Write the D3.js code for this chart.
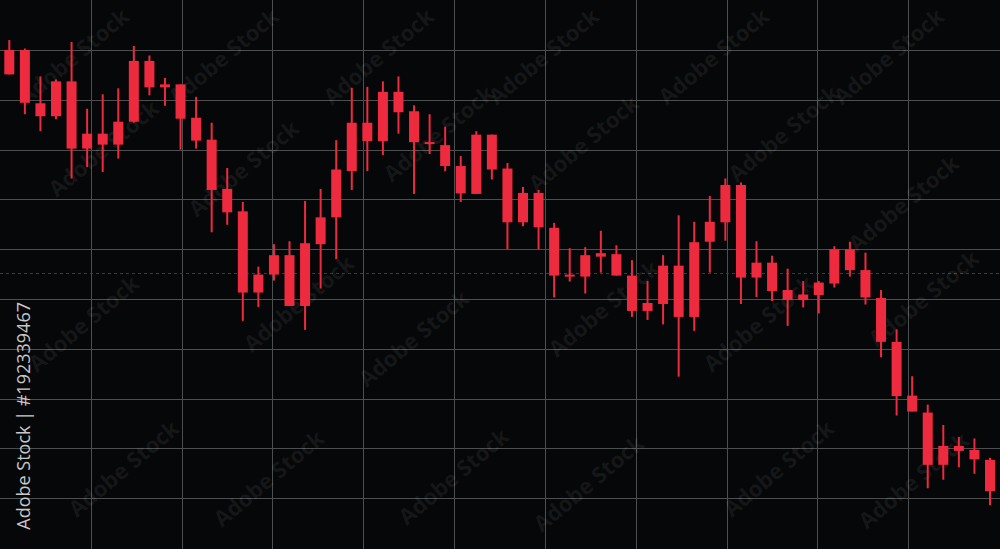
<!DOCTYPE html>
<html>
<head>
<meta charset="utf-8">
<script src="https://cdn.jsdelivr.net/npm/d3@7"></script>
<style>
  html, body { margin: 0; padding: 0; background: #060708; }
  svg { display: block; }
</style>
</head>
<body>
<div id="chart"></div>
<script>
// ---- Data (OHLC per session; every candle in the picture is bearish/red) ----
const sessions = d3.range(64);
const opens = [100.0, 100.0, 89.3, 93.7, 93.7, 83.2, 83.2, 85.6, 97.8, 97.8,
  93.1, 93.1, 86.4, 82.0, 72.1, 67.6, 54.9, 58.8, 58.8, 61.2,
  66.4, 76.0, 85.4, 85.4, 91.6, 91.6, 87.7, 81.5, 80.9, 76.7,
  83.0, 83.0, 76.2, 71.3, 71.3, 64.3, 54.9, 58.8, 59.2, 59.0,
  54.7, 49.2, 56.7, 56.7, 61.4, 65.5, 72.9, 72.9, 57.3, 57.3,
  51.8, 50.9, 53.3, 60.0, 60.0, 55.8, 50.2, 41.4, 30.6, 27.2,
  20.5, 20.5, 19.7, 17.7];
const highs = [102.0, 100.3, 94.7, 94.1, 101.6, 88.2, 91.1, 92.3, 100.8, 98.9,
  94.4, 93.1, 90.6, 85.4, 76.3, 69.5, 56.5, 61.0, 61.6, 69.7,
  72.1, 81.9, 92.4, 92.6, 93.7, 94.7, 88.9, 87.1, 84.6, 78.7,
  83.7, 83.0, 77.3, 72.5, 71.9, 65.3, 60.2, 60.4, 63.7, 60.8,
  57.8, 53.6, 58.8, 66.8, 65.5, 70.7, 74.2, 73.4, 61.6, 58.7,
  56.1, 53.6, 53.6, 60.6, 61.5, 59.3, 51.8, 43.9, 34.5, 28.8,
  24.7, 22.3, 22.0, 18.1];
const lows = [95.1, 87.1, 83.7, 86.1, 74.2, 76.5, 75.5, 78.2, 85.4, 90.9,
  88.8, 80.0, 80.2, 63.4, 64.9, 45.6, 48.4, 53.7, 48.6, 43.8,
  52.1, 58.0, 71.9, 75.7, 78.9, 83.2, 71.1, 79.1, 75.7, 69.5,
  71.1, 74.0, 60.0, 64.6, 60.0, 50.3, 53.5, 51.1, 55.3, 54.7,
  46.4, 45.8, 44.9, 34.4, 43.6, 55.3, 61.7, 49.0, 50.4, 49.6,
  44.6, 48.3, 47.1, 52.3, 54.5, 48.9, 38.3, 26.6, 27.4, 12.0,
  13.7, 16.2, 14.9, 8.6];
const closes = [95.1, 89.4, 86.7, 86.7, 80.2, 80.2, 81.0, 81.0, 85.6, 92.5,
  92.5, 86.2, 81.8, 71.9, 67.4, 51.3, 51.3, 54.9, 48.6, 48.6,
  61.0, 66.4, 75.7, 81.7, 81.7, 87.5, 81.5, 81.1, 76.7, 71.2,
  71.1, 76.0, 65.4, 65.4, 64.4, 54.7, 54.5, 54.5, 58.5, 54.7,
  47.6, 47.6, 49.0, 46.4, 46.4, 61.5, 65.4, 54.3, 54.3, 51.6,
  49.8, 49.8, 50.8, 53.1, 55.8, 50.3, 41.4, 30.5, 27.4, 16.7,
  16.7, 19.5, 17.8, 11.4];
const lastPrice = 55.3;          // faint dashed reference line
const priceTicks = d3.range(0, 111, 10);   // horizontal grid levels
const watermarkText = "Adobe Stock";
const sideLabel = "Adobe Stock | #192339467";

// ---- Layout ----
const W = 1000, H = 549;
const svg = d3.select("#chart").append("svg")
  .attr("width", W).attr("height", H);

svg.append("rect").attr("width", W).attr("height", H).attr("fill", "#060708");

const y = d3.scaleLinear().domain([0, 110]).range([548, 0.2]);
const x = d3.scaleLinear().domain([0, 63]).range([9.3, 990]);
const gx = d3.scaleLinear().domain([0, 11]).range([0, 999]);

// grid
const grid = svg.append("g").attr("stroke", "#4d4e50").attr("stroke-width", 1);
grid.selectAll("line.h").data(priceTicks.filter(d => d > 0 && d < 110)).join("line")
  .attr("class", "h")
  .attr("x1", 0).attr("x2", W)
  .attr("y1", d => Math.round(y(d)) + 0.5).attr("y2", d => Math.round(y(d)) + 0.5);
grid.selectAll("line.v").data(d3.range(1, 11)).join("line")
  .attr("class", "v")
  .attr("y1", 0).attr("y2", H)
  .attr("x1", d => Math.round(gx(d)) + 0.5).attr("x2", d => Math.round(gx(d)) + 0.5);

// dashed last-price line
svg.append("line")
  .attr("x1", 0).attr("x2", W)
  .attr("y1", Math.round(y(lastPrice)) + 0.5).attr("y2", Math.round(y(lastPrice)) + 0.5)
  .attr("stroke", "#3a3b3d").attr("stroke-width", 1).attr("stroke-dasharray", "3,3");

// watermarks (faint diagonal text), kept fully inside the frame
const wmPos = [[75,58],[225,58],[380,58],[545,58],[715,58],[890,58],
  [105,150],[245,170],[440,135],[585,145],[785,135],[905,205],
  [85,325],[300,305],[415,340],[605,310],[760,325],[925,300],
  [125,470],[270,480],[455,478],[590,485],[780,470],[915,482]];
const wm = svg.append("g").attr("pointer-events", "none");
wm.selectAll("text").data(wmPos).join("text")
  .attr("transform", d => `translate(${d[0]},${d[1]}) rotate(-40)`)
  .attr("text-anchor", "middle")
  .attr("dominant-baseline", "middle")
  .attr("font-family", "'Open Sans', sans-serif")
  .attr("font-weight", 700)
  .attr("font-size", 22)
  .attr("fill", "#ffffff")
  .attr("fill-opacity", 0.075)
  .text(watermarkText);

// candles
const data = sessions.map(i => ({ i, o: opens[i], h: highs[i], l: lows[i], c: closes[i] }));
const red = "#ee2a3e";
const bodyW = 10;
const cg = svg.append("g");
cg.selectAll("line.wick").data(data).join("line")
  .attr("class", "wick")
  .attr("x1", d => x(d.i)).attr("x2", d => x(d.i))
  .attr("y1", d => y(d.h)).attr("y2", d => y(d.l))
  .attr("stroke", red).attr("stroke-width", 2);
cg.selectAll("rect.body").data(data).join("rect")
  .attr("class", "body")
  .attr("x", d => x(d.i) - bodyW / 2)
  .attr("width", bodyW)
  .attr("y", d => y(Math.max(d.o, d.c)))
  .attr("height", d => Math.max(2, y(Math.min(d.o, d.c)) - y(Math.max(d.o, d.c))))
  .attr("fill", red);

// vertical side label
svg.append("text")
  .attr("transform", "translate(30,302) rotate(-90)")
  .attr("text-anchor", "end")
  .attr("font-family", "'Open Sans', sans-serif")
  .attr("font-size", 18)
  .attr("fill", "#c8c8c8")
  .text(sideLabel);
</script>
</body>
</html>
